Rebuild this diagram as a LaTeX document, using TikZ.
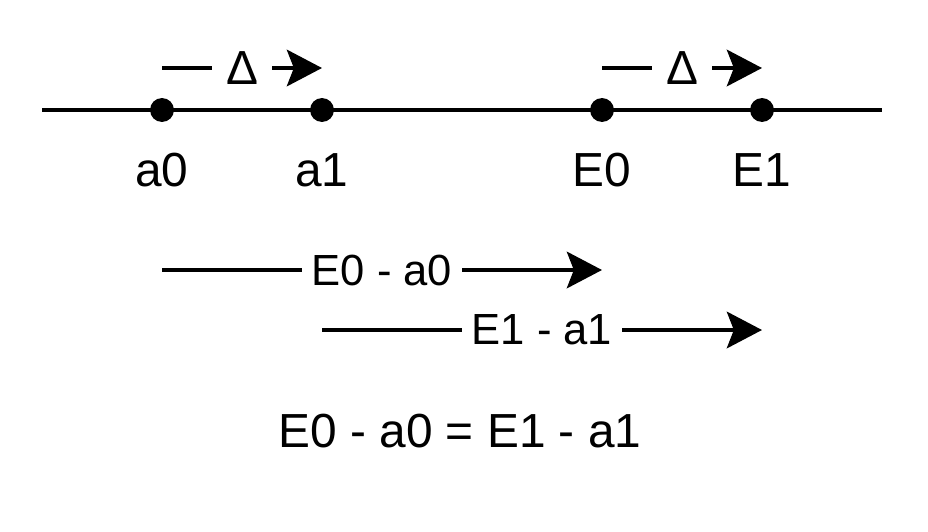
\documentclass[tikz,border=0pt]{standalone}
\usepackage{fontspec}
\setmainfont{Liberation Sans}
\usetikzlibrary{arrows.meta}

\begin{document}
\begin{tikzpicture}[
    x=0.025cm, y=-0.025cm,
    line width=2.8pt,
    ptdot/.style={
        circle, fill=black, inner sep=0pt, minimum size=17pt
    },
    lbl/.style={
        anchor=base, font=\fontsize{34}{40}\selectfont
    },
    gap/.style={
        fill=white, inner sep=7pt, font=\fontsize{31}{36}\selectfont
    },
    deltagap/.style={
        fill=white, inner sep=10pt, font=\fontsize{34}{40}\selectfont
    },
    diff/.style={
        -{Stealth[length=25pt, width=26pt, inset=5pt]}
    }
    ]

    \useasboundingbox (0,0) rectangle (928,532);

    \coordinate (lineL) at (42,110);
    \coordinate (lineR) at (882,110);
    \draw (lineL) -- (lineR);

    \node[ptdot] (a0) at (162,110) {};
    \node[ptdot] (a1) at (322,110) {};
    \node[ptdot] (E0) at (602,110) {};
    \node[ptdot] (E1) at (762,110) {};

    \node[lbl] (a0_lbl) at (162,186) {a0};
    \node[lbl] (a1_lbl) at (322,186) {a1};
    \node[lbl] (E0_lbl) at (602,186) {E0};
    \node[lbl] (E1_lbl) at (762,186) {E1};

    \path (a0) ++(0,-42) coordinate (da_0);
    \path (a1) ++(0,-42) coordinate (da_1);
    \path (E0) ++(0,-42) coordinate (dE_0);
    \path (E1) ++(0,-42) coordinate (dE_1);
    \draw[diff] (da_0) -- node[deltagap] (delta_a) {Δ} (da_1);
    \draw[diff] (dE_0) -- node[deltagap] (delta_E) {Δ} (dE_1);

    \path (a0) ++(0,160) coordinate (s_0);
    \path (E0) ++(0,160) coordinate (e_0);
    \path (a1) ++(0,220) coordinate (s_1);
    \path (E1) ++(0,220) coordinate (e_1);
    \draw[diff] (s_0) -- node[gap] (diff_0) {E0 - a0} (e_0);
    \draw[diff] (s_1) -- node[gap] (diff_1) {E1 - a1} (e_1);

    \node[lbl] (eq) at (460,447) {E0 - a0 = E1 - a1};
\end{tikzpicture}
\end{document}
